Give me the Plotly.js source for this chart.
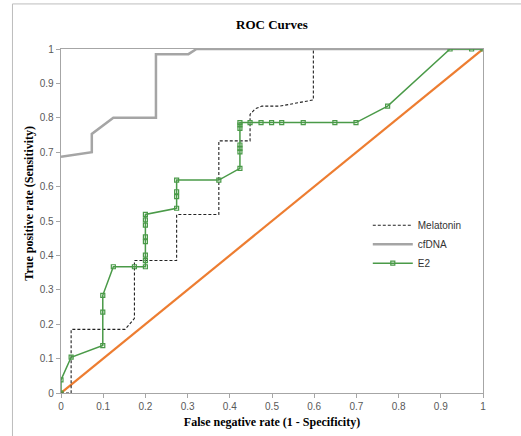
<!DOCTYPE html>
<html><head><meta charset="utf-8">
<script src="https://cdn.plot.ly/plotly-3.0.1.min.js"></script>
<style>html,body{margin:0;padding:0;background:#fff}#chart{width:521px;height:436px}</style>
</head><body><div id="chart"></div>
<script>
const melatoninX = [0,0.024,0.024,0.152,0.174,0.174,0.274,0.274,0.374,0.374,0.448,0.448,0.46,0.476,0.519,0.598,0.598,1];
const melatoninY = [0,0,0.185,0.185,0.217,0.385,0.385,0.519,0.519,0.733,0.733,0.81,0.826,0.834,0.834,0.852,1,1];
const cfdnaX = [0,0.073,0.073,0.124,0.225,0.225,0.302,0.321,1];
const cfdnaY = [0.687,0.70,0.753,0.80,0.80,0.985,0.985,1,1];
const e2X = [0,0,0.024,0.099,0.099,0.099,0.124,0.174,0.2,0.2,0.2,0.2,0.2,0.2,0.2,0.2,0.274,0.274,0.274,0.274,0.374,0.424,0.424,0.424,0.424,0.424,0.424,0.424,0.448,0.474,0.499,0.523,0.574,0.649,0.699,0.774,0.922,0.973,1];
const e2Y = [0,0.038,0.104,0.138,0.235,0.284,0.367,0.367,0.367,0.385,0.401,0.44,0.454,0.488,0.503,0.519,0.537,0.571,0.585,0.619,0.619,0.653,0.701,0.711,0.721,0.769,0.779,0.786,0.786,0.786,0.786,0.786,0.786,0.786,0.786,0.834,1,1,1];
const refX = [0,1];
const refY = [0,1];
const ticks = [0,0.1,0.2,0.3,0.4,0.5,0.6,0.7,0.8,0.9,1];
const tickText = ['0','0.1','0.2','0.3','0.4','0.5','0.6','0.7','0.8','0.9','1'];

const traces = [
  {x: refX, y: refY, mode:'lines', line:{color:'#ED7D31', width:2.2}, showlegend:false, hoverinfo:'skip'},
  {x: melatoninX, y: melatoninY, name:'Melatonin', mode:'lines', line:{color:'#222', width:1.1, dash:'3px,2px'}},
  {x: cfdnaX, y: cfdnaY, name:'cfDNA', mode:'lines', line:{color:'#A5A5A5', width:2.5}},
  {x: e2X, y: e2Y, name:'E2', mode:'lines+markers', line:{color:'#4A9A48', width:1.5},
   marker:{symbol:'square-open', size:4, color:'#4A9A48', line:{width:1.2}}}
];
const axisCommon = {
  range:[0,1], tickvals:ticks, ticktext:tickText, showgrid:false, zeroline:false,
  showline:true, linecolor:'#A6A6A6', linewidth:1.3, mirror:true,
  ticks:'outside', ticklen:4, tickcolor:'#A6A6A6',
  tickfont:{family:'Liberation Sans, Arial, sans-serif', size:10, color:'#595959'}
};
const layout = {
  width:521, height:436, paper_bgcolor:'#fff', plot_bgcolor:'#fff',
  margin:{l:61, r:38, t:49, b:43},
  title:{text:'<b>ROC Curves</b>', x:0.522, xanchor:'center', y:0.943, yanchor:'middle',
         font:{family:'Liberation Serif, Times New Roman, serif', size:13, color:'#000'}},
  xaxis: Object.assign({}, axisCommon, {
    title:{text:'<b>False negative rate (1 - Specificity)</b>', standoff:6,
           font:{family:'Liberation Serif, Times New Roman, serif', size:12, color:'#000'}}}),
  yaxis: Object.assign({}, axisCommon, {title:{text:''}}),
  annotations:[
    {text:'<b>True positive rate (Sensitivity)</b>', xref:'paper', yref:'paper',
     x:-0.0745, y:0.552, xanchor:'center', yanchor:'middle', textangle:-90, showarrow:false,
     font:{family:'Liberation Serif, Times New Roman, serif', size:12, color:'#000'}}
  ],
  legend:{x:0.727, y:0.53, xanchor:'left', yanchor:'top', bgcolor:'rgba(0,0,0,0)',
          font:{family:'Liberation Sans, Arial, sans-serif', size:10, color:'#333'},
          itemwidth:40},
  shapes:[
    {type:'line', xref:'paper', yref:'paper', x0:-0.115, x1:1.09, y0:1.131, y1:1.131, line:{color:'#BDBDBD', width:1}},
    {type:'line', xref:'paper', yref:'paper', x0:-0.115, x1:-0.115, y0:1.131, y1:-0.13, line:{color:'#BDBDBD', width:1}}
  ]
};
Plotly.newPlot('chart', traces, layout, {displayModeBar:false, staticPlot:true});
</script></body></html>
